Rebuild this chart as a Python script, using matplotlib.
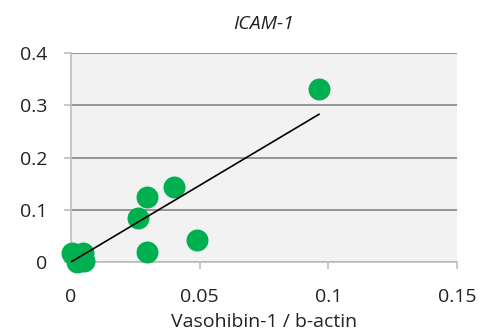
import numpy as np
import matplotlib
matplotlib.use('Agg')
import matplotlib.pyplot as plt

plt.rcParams['font.family'] = ['Open Sans', 'DejaVu Sans']

# data
vasohibin = [0.0004, 0.0047, 0.0023, 0.0050, 0.026, 0.0295, 0.0295, 0.040, 0.049, 0.0964]
icam = [0.017, 0.017, 0.000, 0.002, 0.084, 0.125, 0.019, 0.144, 0.042, 0.331]
xticks = [0, 0.05, 0.1, 0.15]
xticklabels = ['0', '0.05', '0.1', '0.15']
yticks = [0, 0.1, 0.2, 0.3, 0.4]
yticklabels = ['0', '0.1', '0.2', '0.3', '0.4']

fig = plt.figure(figsize=(4.79, 3.36), dpi=100)
ax = fig.add_axes([0.148, 0.22, 0.806, 0.622])
ax.set_facecolor('#f2f2f2')

ax.scatter(vasohibin, icam, s=250, color='#00b050', zorder=3, linewidths=0, clip_on=False)

# linear trend line, intercept fixed at 0 (excel style)
x = np.array(vasohibin)
y = np.array(icam)
slope = np.sum(x * y) / np.sum(x * x)
xl = np.array([x.min(), x.max()])
ax.plot(xl, slope * xl, color='black', lw=1.2, zorder=4, clip_on=False)

ax.set_xlim(0, 0.15)
ax.set_ylim(0, 0.4)
ax.set_xticks(xticks)
ax.set_xticklabels(xticklabels)
ax.set_yticks(yticks)
ax.set_yticklabels(yticklabels)
ax.yaxis.grid(True, color='#858585', lw=1.2)
ax.set_axisbelow(True)

for s in ['top', 'right']:
    ax.spines[s].set_visible(False)
for s in ['left', 'bottom']:
    ax.spines[s].set_color('#bfbfbf')
    ax.spines[s].set_linewidth(1.2)
ax.tick_params(axis='both', colors='#bfbfbf', labelcolor='#222222', labelsize=14,
               length=5, width=1.2, direction='out')
ax.tick_params(axis='x', pad=14)
ax.tick_params(axis='y', pad=12)

ax.set_xlabel('Vasohibin-1 / b-actin', fontsize=14, color='#222222', labelpad=5)
ax.set_title('ICAM-1', fontsize=14, style='italic', color='#222222', pad=17)

fig.savefig('out.png', dpi=100)
